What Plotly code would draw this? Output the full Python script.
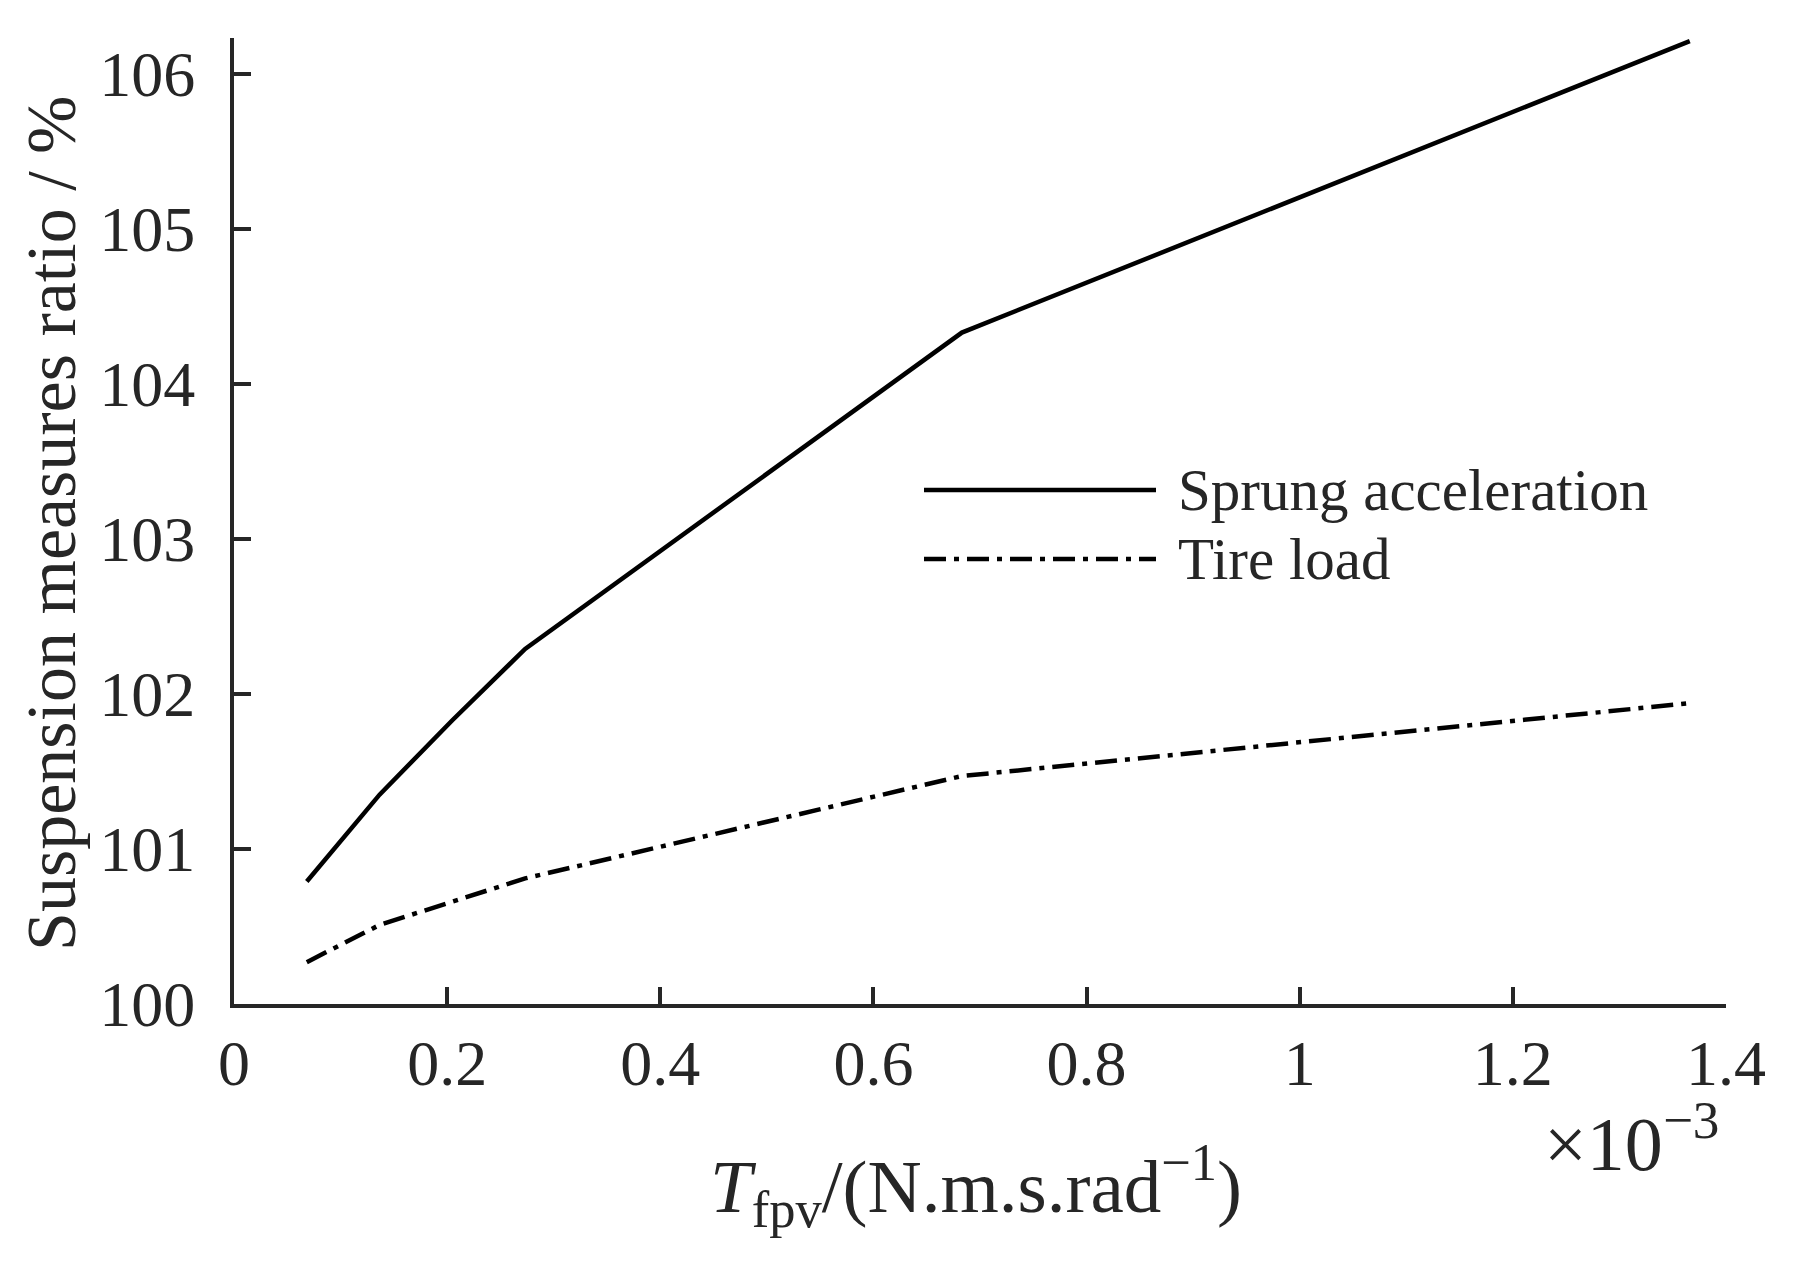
import plotly.graph_objects as go

# x values in units of 1e-3 N.m.s/rad
x_vals = [0.0683, 0.1366, 0.2049, 0.2732, 0.683, 1.366]
sprung_acc = [100.79, 101.35, 101.83, 102.29, 104.33, 106.21]
tire_load = [100.27, 100.51, 100.66, 100.81, 101.47, 101.94]
x_ticks = [0, 0.2, 0.4, 0.6, 0.8, 1.0, 1.2, 1.4]
x_tick_text = ["0", "0.2", "0.4", "0.6", "0.8", "1", "1.2", "1.4"]
y_ticks = [100, 101, 102, 103, 104, 105, 106]

FONT = "Liberation Serif, Times New Roman, serif"
TXT = "#262626"
DASHDOT = "22px,8px,5px,8px"

fig = go.Figure()
fig.add_trace(go.Scatter(x=x_vals, y=sprung_acc, mode="lines", name="Sprung acceleration",
                         line=dict(color="black", width=4.5), showlegend=False))
fig.add_trace(go.Scatter(x=x_vals, y=tire_load, mode="lines", name="Tire load",
                         line=dict(color="black", width=4.5, dash=DASHDOT), showlegend=False))

# page has an 8px body margin; target plot area in page pixels
OFF = 8
W, H = 1811 - OFF, 1273 - OFF
L, R, T, B = 234, 1726, 38, 1004

def px(xp):
    return (xp - L) / (R - L)

def py(yp):
    return (B - yp) / (B - T)

fig.update_layout(
    width=W, height=H,
    margin=dict(l=L - OFF, r=W - (R - OFF), t=T - OFF, b=H - (B - OFF), pad=0),
    paper_bgcolor="white", plot_bgcolor="white",
    font=dict(family=FONT, color=TXT, size=64),
    xaxis=dict(range=[0, 1.4], tickvals=x_ticks, ticktext=x_tick_text,
               showline=True, linecolor=TXT, linewidth=4, mirror=False,
               ticks="inside", ticklen=17, tickwidth=4, tickcolor=TXT,
               showgrid=False, zeroline=False, ticklabelstandoff=0,
               tickfont=dict(family=FONT, size=64, color=TXT)),
    yaxis=dict(range=[100, 106.23], tickvals=y_ticks,
               showline=True, linecolor=TXT, linewidth=4, mirror=False,
               ticks="inside", ticklen=17, tickwidth=4, tickcolor=TXT,
               showgrid=False, zeroline=False, ticklabelstandoff=22,
               tickfont=dict(family=FONT, size=64, color=TXT)),
)

# legend drawn manually (long sample lines as in the original)
legend_items = [("Sprung acceleration", "solid", 490), ("Tire load", DASHDOT, 559)]
for label, dash, ypix in legend_items:
    fig.add_shape(type="line", xref="paper", yref="paper",
                  x0=px(924), x1=px(1156), y0=py(ypix), y1=py(ypix),
                  line=dict(color="black", width=4.5, dash=dash))
    fig.add_annotation(xref="paper", yref="paper", x=px(1176), y=py(ypix),
                       xanchor="left", yanchor="middle", showarrow=False,
                       text=label, font=dict(family=FONT, size=59, color=TXT))

# axis titles
fig.add_annotation(xref="paper", yref="paper", x=px(51), y=py(524), textangle=-90,
                   xanchor="center", yanchor="middle", showarrow=False,
                   text="Suspension measures ratio / %",
                   font=dict(family=FONT, size=70, color=TXT))
fig.add_annotation(xref="paper", yref="paper", x=px(976), y=py(1185),
                   xanchor="center", yanchor="middle", showarrow=False,
                   text="<i>T</i><sub>fpv</sub>/(N.m.s.rad<sup>−1</sup>)",
                   font=dict(family=FONT, size=75, color=TXT))
fig.add_annotation(xref="paper", yref="paper", x=px(1631), y=py(1138),
                   xanchor="center", yanchor="middle", showarrow=False,
                   text="×10<sup>−3</sup>",
                   font=dict(family=FONT, size=76, color=TXT))

fig.write_html("out.html")
